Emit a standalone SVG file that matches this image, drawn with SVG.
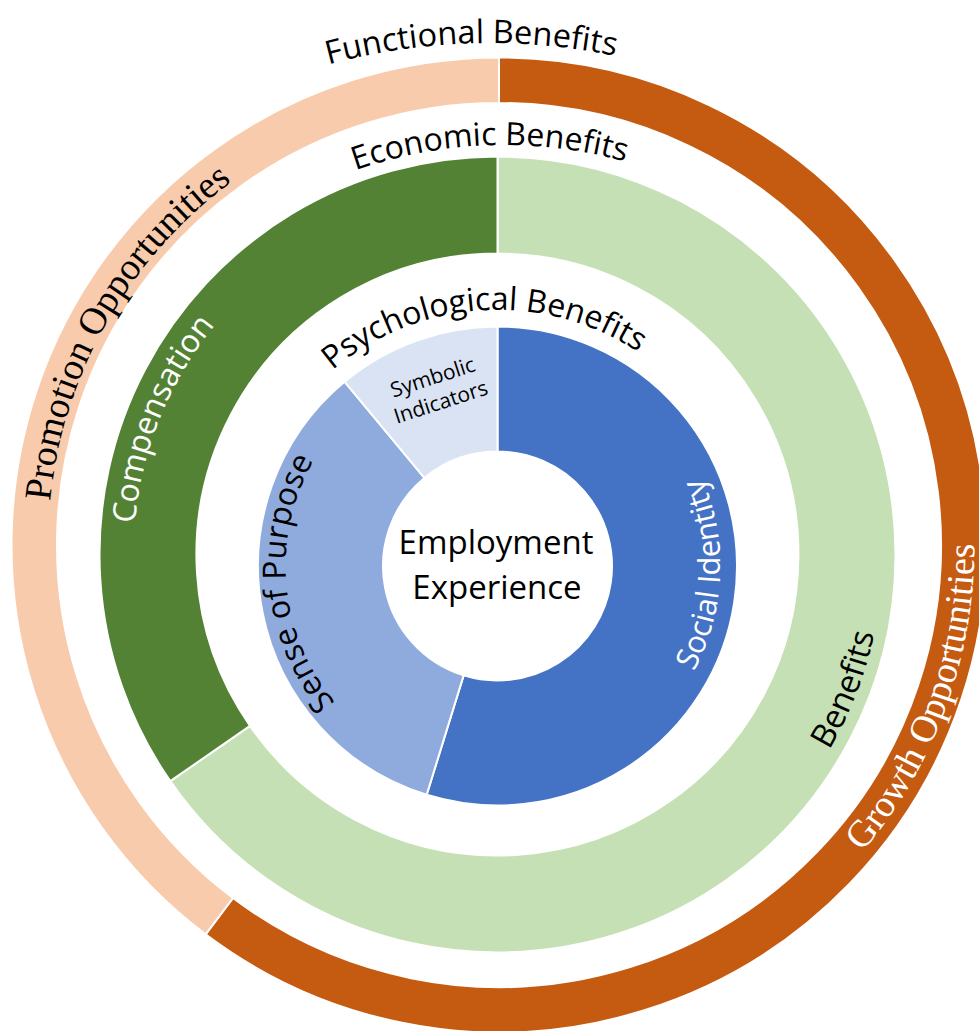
<svg xmlns="http://www.w3.org/2000/svg" width="979" height="1031" viewBox="0 0 979 1031">
  <style>
    .seg { stroke: #ffffff; stroke-width: 2; stroke-linejoin: miter; }
    .sans { font-family: "Open Sans", "Liberation Sans", sans-serif; }
    .serif { font-family: "Liberation Serif", "Times New Roman", serif; }
    .dark { fill: #000000; }
    .light { fill: #ffffff; }
  </style>
  <defs>
    <!-- arc guides for curved labels -->
    <path id="arc-functional" d="M91.5,188.1 A620,620 0 0 1 888.5,188.1"/>
    <path id="arc-economic" d="M185.8,276.8 A450,450 0 0 1 822.2,276.8"/>
    <path id="arc-psych" d="M250.2,499.7 A256,256 0 0 1 744.8,499.7"/>
    <path id="arc-promotion" d="M153.5,834.9 A451,451 0 0 1 577.3,100.9"/>
    <path id="arc-growth" d="M663.5,991.4 A475,475 0 0 0 910.4,307.5"/>
    <path id="arc-compensation" d="M263.5,833.3 A364,364 0 0 1 497.5,190.5"/>
    <path id="arc-benefits" d="M564.4,933.6 A385,385 0 0 0 792.4,307.0"/>
    <path id="arc-social" d="M536.2,785.6 A223,223 0 0 0 536.2,346.4"/>
    <path id="arc-purpose" d="M497.5,778 A212,212 0 0 1 425.0,366.8"/>
  </defs>

  <rect width="979" height="1031" fill="#ffffff"/>

  <!-- outer ring: functional benefits -->
  <g id="functional-benefits">
    <g id="growth-opportunities">
      <path class="seg" fill="#C55A11" d="M499,57.5 A487.5,487.5 0 1 1 205.61,934.34 L233.0,898.0 A442,442 0 1 0 499,103 Z"/>
      <text class="serif light" font-size="38"><textPath href="#arc-growth" startOffset="413" text-anchor="middle">Growth Opportunities</textPath></text>
    </g>
    <g id="promotion-opportunities">
      <path class="seg" fill="#F8CBAD" d="M205.61,934.34 A487.5,487.5 0 0 1 499,57.5 L499,103 A442,442 0 0 0 233.0,898.0 Z"/>
      <text class="serif dark" font-size="38"><textPath href="#arc-promotion" startOffset="548" text-anchor="middle">Promotion Opportunities</textPath></text>
    </g>
    <text class="sans dark" font-size="32.5"><textPath href="#arc-functional" startOffset="414" text-anchor="middle">Functional Benefits</textPath></text>
  </g>

  <!-- middle ring: economic benefits -->
  <g id="economic-benefits">
    <g id="benefits">
      <path class="seg" fill="#C5E0B4" d="M497.5,156.5 A398,398 0 1 1 170.3,781.1 L250.0,725.9 A301,301 0 1 0 497.5,253.5 Z"/>
      <text class="sans dark" font-size="33"><textPath href="#arc-benefits" startOffset="395" text-anchor="middle">Benefits</textPath></text>
    </g>
    <g id="compensation">
      <path class="seg" fill="#548235" d="M170.3,781.1 A398,398 0 0 1 497.5,156.5 L497.5,253.5 A301,301 0 0 0 250.0,725.9 Z"/>
      <text class="sans light" font-size="32"><textPath href="#arc-compensation" startOffset="457" text-anchor="middle">Compensation</textPath></text>
    </g>
    <text class="sans dark" font-size="32"><textPath href="#arc-economic" startOffset="339" text-anchor="middle">Economic Benefits</textPath></text>
  </g>

  <!-- inner ring: psychological benefits -->
  <g id="psychological-benefits">
    <g id="social-identity">
      <path class="seg" fill="#4472C4" d="M497.5,326.5 A239.5,239.5 0 1 1 426.68,794.79 L463.64,675.38 A114.5,114.5 0 1 0 497.5,451.5 Z"/>
      <text class="sans light" font-size="31"><textPath href="#arc-social" startOffset="302" text-anchor="middle">Social Identity</textPath></text>
    </g>
    <g id="sense-of-purpose">
      <path class="seg" fill="#8FAADC" d="M426.68,794.79 A239.5,239.5 0 0 1 344.51,381.73 L424.36,477.90 A114.5,114.5 0 0 0 463.64,675.38 Z"/>
      <text class="sans dark" font-size="32"><textPath href="#arc-purpose" startOffset="314" text-anchor="middle">Sense of Purpose</textPath></text>
    </g>
    <g id="symbolic-indicators">
      <path class="seg" fill="#DAE3F3" d="M344.51,381.73 A239.5,239.5 0 0 1 497.5,326.5 L497.5,451.5 A114.5,114.5 0 0 0 424.36,477.90 Z"/>
      <g transform="translate(439,396.5) rotate(-18)">
        <text class="sans dark" font-size="21" text-anchor="middle" x="0" y="-13">Symbolic</text>
        <text class="sans dark" font-size="21" text-anchor="middle" x="0" y="13">Indicators</text>
      </g>
    </g>
    <text class="sans dark" font-size="32"><textPath href="#arc-psych" startOffset="320" text-anchor="middle">Psychological Benefits</textPath></text>
  </g>

  <!-- hub -->
  <g id="employment-experience">
    <text class="sans dark" font-size="33" text-anchor="middle" x="496" y="554">Employment</text>
    <text class="sans dark" font-size="33" text-anchor="middle" x="497" y="599">Experience</text>
  </g>

  <g id="connectors"/>
</svg>
